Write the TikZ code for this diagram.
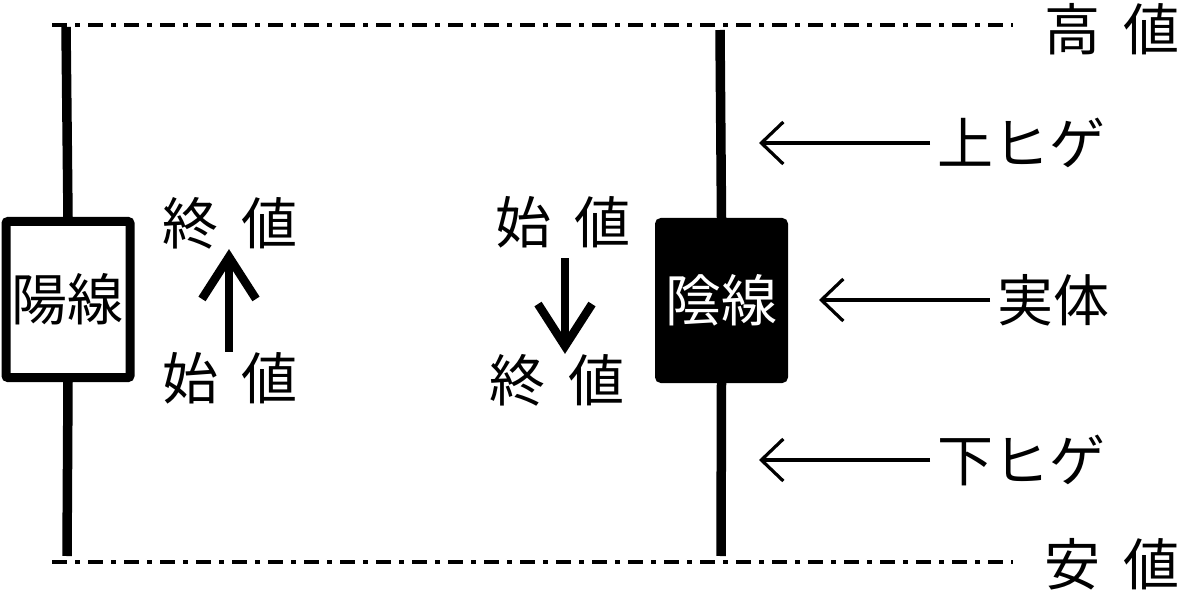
\documentclass[tikz,border=0pt]{standalone}
\usepackage{fontspec}
\newfontfamily\jpfont{Noto Sans CJK JP}
\usetikzlibrary{arrows.meta}

\begin{document}
\begin{tikzpicture}[x=1pt,y=-1pt,
  lab/.style={font=\jpfont\fontsize{56}{60}\selectfont,inner sep=0pt},
  wick/.style={line width=9.5pt},
  body/.style={draw,line width=9pt,rounded corners=2pt,minimum width=124pt,minimum height=156pt,inner sep=0pt},
  level/.style={line width=3.5pt,dash pattern=on 15pt off 8pt on 5pt off 8pt,shorten >=32pt},
  bigarr/.style={line width=8.5pt,-{Straight Barb[length=42pt,width=54pt]}},
  thinarr/.style={line width=3.2pt,shorten <=7pt,-{Straight Barb[length=22pt,width=42pt]}}]
\useasboundingbox (0,0) rectangle (1179,591);
% price levels
\node[lab] (high) at (1112,29) {高\hspace{.4em}値};
\node[lab] (low) at (1112,564) {安\hspace{.4em}値};
\coordinate (hl) at (52,25);
\coordinate (ll) at (52,562);
\draw[level] (hl) -- (hl -| high.west);
\draw[level] (ll) -- (ll -| low.west);
% bullish candle
\node[body,fill=white] (yang) at (68,299.5) {\jpfont\fontsize{56}{60}\selectfont 陽線};
\coordinate (yangtop) at (66,27);
\coordinate (yangbot) at (67,556);
\draw[wick] (yangtop) -- (yang.north);
\draw[wick] (yang.south) -- (yangbot);
\node[lab] (yangclose) at (230,223) {終\hspace{.4em}値};
\node[lab] (yangopen) at (230,378) {始\hspace{.4em}値};
\draw[bigarr] (yangopen.north) ++(-1,0) coordinate (ua) -- (ua |- yangclose.south);
% bearish candle
\node[body,fill=black,text=white] (yin) at (721.5,300.5) {\jpfont\fontsize{56}{60}\selectfont 陰線};
\coordinate (yintop) at (720,30);
\coordinate (yinbot) at (721,556);
\draw[wick] (yintop) -- (yin.north);
\draw[wick] (yin.south) -- (yinbot);
\node[lab] (yinopen) at (563,222) {始\hspace{.4em}値};
\node[lab] (yinclose) at (557,380) {終\hspace{.4em}値};
\draw[bigarr] (565,258) coordinate (da) -- (da |- yinclose.north);
% parts
\foreach \nm/\tip/\yy/\txt in {upper/759/143/上ヒゲ, real/819/300/実体, lower/759/460/下ヒゲ} {
  \node[lab,anchor=west] (\nm) at ({\tip+178},\yy) {\txt};
  \coordinate (\nm tip) at (\tip,\yy);
  \draw[thinarr] (\nm.west) -- (\nm tip);
}
\end{tikzpicture}
\end{document}
